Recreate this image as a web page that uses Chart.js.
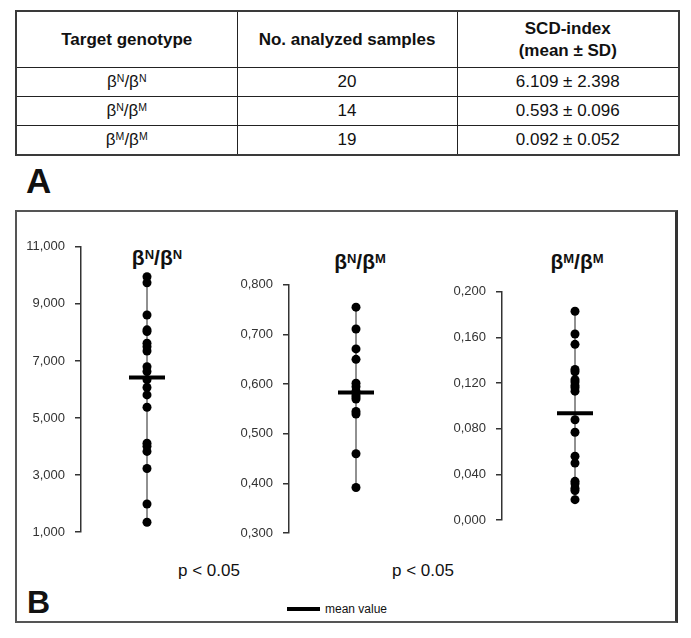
<!DOCTYPE html>
<html>
<head>
<meta charset="utf-8">
<script src="https://cdn.jsdelivr.net/npm/chart.js@4.4.1/dist/chart.umd.min.js"></script>
<style>
  body { margin: 0; width: 691px; height: 638px; background: #fff; position: relative; overflow: hidden;
         font-family: "Liberation Sans", Arial, sans-serif; color: #111; }
  .abs { position: absolute; }
  sup { font-size: 0.62em; vertical-align: 0.5em; line-height: 0; }
  #tbl { left: 15px; top: 10px; width: 663px; table-layout: fixed; border-collapse: collapse;
         border: 2px solid #3a3a3a; font-size: 17px; }
  #tbl td, #tbl th { border: 1px solid #222; text-align: center; padding: 0; }
  #tbl th { height: 55px; font-weight: bold; line-height: 22px; }
  #tbl td { height: 28px; }
  .lbl { font-weight: bold; line-height: 1; }
  #panelB { left: 15px; top: 210px; width: 663px; height: 413px; box-sizing: border-box;
            border: 2px solid #555; border-right-width: 3px; border-right-color: #333; }
  .ttl { font-weight: bold; font-size: 21px; line-height: 1; text-align: center; width: 100px; }
  .pv { font-size: 17px; line-height: 1; }
  canvas { position: absolute; }
</style>
</head>
<body>
<table id="tbl" class="abs"></table>
<div class="abs lbl" style="left:26px; top:163px; font-size:35px;">A</div>

<div id="panelB" class="abs"></div>
<div class="abs lbl" style="left:27px; top:586px; font-size:32px;">B</div>

<div id="t1" class="abs ttl" style="left:107px; top:247px;"></div>
<div id="t2" class="abs ttl" style="left:310px; top:251px;"></div>
<div id="t3" class="abs ttl" style="left:527px; top:251px;"></div>

<div class="abs pv" style="left:178px; top:562px;">p &lt; 0.05</div>
<div class="abs pv" style="left:392px; top:562px;">p &lt; 0.05</div>

<div class="abs" style="left:287px; top:607px; width:33px; height:4px; background:#000;"></div>
<div class="abs" style="left:325px; top:602px; font-size:12px; line-height:14px;">mean value</div>

<canvas id="c1" width="192" height="321" style="left:21px; top:229px;"></canvas>
<canvas id="c2" width="194" height="284" style="left:229px; top:267px;"></canvas>
<canvas id="c3" width="206" height="264" style="left:442px; top:274px;"></canvas>

<script>
// Table (panel A)
const genotypes = [["N", "N"], ["N", "M"], ["M", "M"]];
const sampleCounts = [20, 14, 19];
const scdIndex = ["6.109 ± 2.398", "0.593 ± 0.096", "0.092 ± 0.052"];
const headers = ["Target genotype", "No. analyzed samples", "SCD-index<br>(mean ± SD)"];

// Dot plots (panel B)
const nnValues = [9950, 9740, 8610, 8090, 8030, 7620, 7500, 7350, 6800, 6630,
                  6340, 6070, 5810, 5380, 4120, 4010, 3830, 3230, 1990, 1350];
const nnMean = 6420;
const nmValues = [0.755, 0.711, 0.671, 0.650, 0.602, 0.595, 0.586, 0.578, 0.574,
                  0.570, 0.545, 0.540, 0.460, 0.392];
const nmMean = 0.583;
const mmValues = [0.183, 0.163, 0.154, 0.132, 0.130, 0.123, 0.121, 0.118, 0.116, 0.113,
                  0.088, 0.077, 0.056, 0.050, 0.034, 0.032, 0.028, 0.026, 0.018];
const mmMean = 0.0936;

const geno = g => "β<sup>" + g[0] + "</sup>/β<sup>" + g[1] + "</sup>";

let html = '<colgroup><col style="width:221px"><col style="width:220px"><col style="width:222px"></colgroup>';
html += "<tr>" + headers.map(h => "<th>" + h + "</th>").join("") + "</tr>";
genotypes.forEach((g, i) => {
  html += "<tr><td>" + geno(g) + "</td><td>" + sampleCounts[i] + "</td><td>" + scdIndex[i] + "</td></tr>";
});
document.getElementById("tbl").innerHTML = html;
document.getElementById("t1").innerHTML = geno(genotypes[0]);
document.getElementById("t2").innerHTML = geno(genotypes[1]);
document.getElementById("t3").innerHTML = geno(genotypes[2]);

const FONT = "'Liberation Sans', Arial, sans-serif";

function dotPlot(id, values, mean, min, max, step, fmt) {
  const pts = values.slice().sort((a, b) => a - b).map(v => ({ x: 0, y: v }));
  new Chart(document.getElementById(id), {
    type: "scatter",
    data: {
      datasets: [
        {
          data: [{ x: 0, y: mean }],
          pointStyle: "line",
          pointRadius: 18,
          pointBorderWidth: 4,
          pointBorderColor: "#000"
        },
        {
          data: pts,
          showLine: true,
          borderColor: "#222",
          borderWidth: 1,
          pointRadius: 4.5,
          pointBorderWidth: 0,
          pointBackgroundColor: "#000"
        }
      ]
    },
    options: {
      responsive: false,
      animation: false,
      layout: { autoPadding: false, padding: { top: 10, bottom: 10, left: 0, right: 0 } },
      plugins: { legend: { display: false }, tooltip: { enabled: false } },
      scales: {
        x: { type: "linear", min: -1, max: 1, display: false },
        y: {
          min: min,
          max: max,
          afterFit: s => { s.width = 60; },
          ticks: {
            stepSize: step,
            padding: 10,
            color: "#333",
            font: { family: FONT, size: 13 },
            callback: fmt
          },
          grid: { drawOnChartArea: false, tickLength: 6, color: "#333", lineWidth: 1.5 },
          border: { color: "#333", width: 1.5 }
        }
      }
    }
  });
}

dotPlot("c1", nnValues, nnMean, 1000, 11000, 2000, v => v.toLocaleString("en-US"));
dotPlot("c2", nmValues, nmMean, 0.3, 0.8, 0.1, v => v.toFixed(3).replace(".", ","));
dotPlot("c3", mmValues, mmMean, 0, 0.2, 0.04, v => v.toFixed(3).replace(".", ","));
</script>
</body>
</html>
